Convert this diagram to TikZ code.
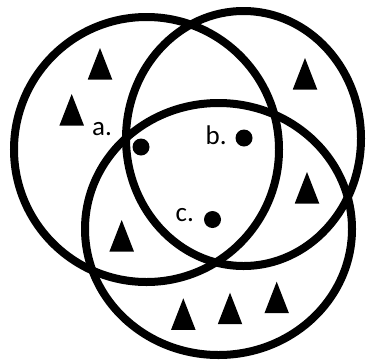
\documentclass[tikz,border=0pt]{standalone}
\usepackage{fontspec}
\setmainfont{Carlito}
\begin{document}
\begin{tikzpicture}[x=1pt, y=-1pt,
    ring/.style={line width=8pt},
    dot/.style={circle, fill=black, inner sep=0pt, minimum size=17pt},
    lbl/.style={anchor=base west, inner sep=0pt, font=\fontsize{27}{30}\selectfont}]
  \useasboundingbox (0,0) rectangle (366,362);
  % Circles
  \draw[ring] (146.5,149.5) circle (132.5);
  \draw[ring] (243.5,138.5) ellipse (117.5 and 127.5);
  \draw[ring] (218.5,229) ellipse (133.5 and 126);
  % Triangles (apex positions)
  \foreach \x/\y in {100/48, 71.7/94, 305/58, 307/172, 121.7/220,
                     183.3/298.3, 230/292.7, 276.7/281.7} {
    \fill (\x,\y) -- ++(-12.25,31.5) -- ++(24.5,0) -- cycle;
  }
  % Points
  \node[dot] (pa) at (141,147) {};
  \node[dot] (pb) at (244,138) {};
  \node[dot] (pc) at (212.5,219.5) {};
  % Labels
  \node[lbl] (la) at (92,135) {a.};
  \node[lbl] (lb) at (205.5,144) {b.};
  \node[lbl] (lc) at (175.5,221) {c.};
\end{tikzpicture}
\end{document}
